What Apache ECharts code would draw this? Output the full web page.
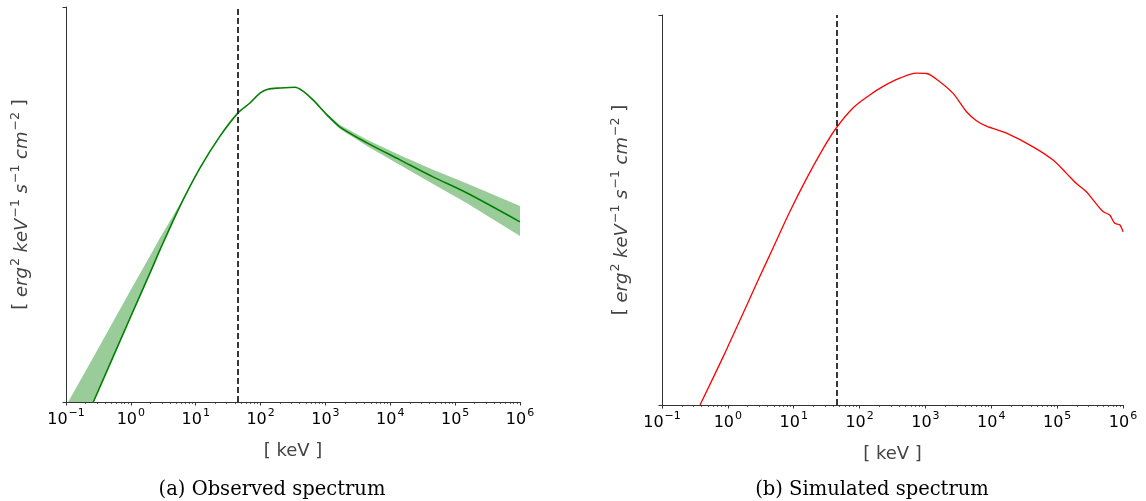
<!DOCTYPE html>
<html><head><meta charset="utf-8">
<script src="https://cdn.jsdelivr.net/npm/echarts@6/dist/echarts.min.js"></script>
<style>html,body{margin:0;padding:0;background:#fff}#c{width:1146px;height:501px}</style>
</head><body><div id="c"></div>
<script>
// ---- data (x in keV, y in arbitrary plot units 0..100) ----
const obsEnergy = [0.1, 0.108, 0.264, 1, 2.22, 2.81, 5.73, 11.6, 23.7, 44.9, 68.7, 97.9, 130, 200, 340, 451, 643, 1057, 1679, 4375, 14125, 45600, 152400, 1000000];
const obsFlux   = [-15.8, -14.5, 0, 21.7, 34.6, 38.5, 49.6, 59.2, 67.3, 73.2, 75.7, 78.2, 79.2, 79.5, 79.7, 78.7, 76.5, 72.7, 69.6, 65.6, 61.3, 57.0, 52.9, 45.6];
const obsLower  = [-15.8, -14.5, 0, 21.7, 34.6, 38.5, 49.6, 59.2, 67.3, 73.2, 75.7, 78.2, 79.2, 79.5, 79.7, 78.7, 76.5, 72.4, 69.1, 64.8, 60.0, 55.2, 50.3, 42.0];
const obsUpper  = [-1.0, 0.0, 11.3, 28.4, 38.5, 41.5, 50.1, 59.2, 67.3, 73.2, 75.7, 78.2, 79.2, 79.5, 79.7, 78.7, 76.5, 73.0, 70.1, 66.4, 62.5, 58.8, 55.3, 49.6];

const simEnergy = [0.378, 0.851, 1.53, 2.74, 4.89, 8.75, 15.7, 28.1, 43.7, 80.0, 143, 228, 409, 733, 1040, 1652, 2630, 4207, 5957, 8453, 17020, 43050, 86700, 138400, 196300, 278600, 350800, 497700, 628100, 748200, 891300, 1000000];
const simFlux   = [0, 12.4, 21.8, 31.2, 40.4, 49.6, 58.1, 65.8, 70.9, 76.2, 79.5, 81.7, 83.8, 85.1, 85.0, 82.9, 79.9, 75.2, 72.9, 71.5, 69.7, 66.2, 62.8, 59.4, 56.8, 54.7, 52.6, 49.6, 48.7, 46.6, 46.2, 44.4];

const dashedEnergyKeV = 45;
const xMinKeV = 0.1, xMaxKeV = 1e6;
const captions = ['(a) Observed spectrum', '(b) Simulated spectrum'];
const xAxisTitle = '[ keV ]';
const yAxisTitle = '[ {i|erg}{s|2} {i|keV}{s|\u22121} {i|s}{s|\u22121} {i|cm}{s|\u22122} ]';

// minor tick positions (log10 space)
const minorTickLogs = [];
for (let n = -1; n < 6; n++) for (let m = 2; m <= 9; m++) minorTickLogs.push(Math.log10(m * Math.pow(10, n)));

const FONT = 'DejaVu Sans';
const AX = '#333';

function zip(a, b) { return a.map((v, i) => [v, b[i]]); }

function tickLabel(v) {
  const e = Math.round(Math.log10(v));
  return '{b|10}{s|' + (e < 0 ? '\u2212' + (-e) : e) + '}';
}

const labelRich = {
  b: { fontSize: 16, fontFamily: FONT, color: '#000', lineHeight: 20, verticalAlign: 'bottom' },
  s: { fontSize: 11, fontFamily: FONT, color: '#000', lineHeight: 20, verticalAlign: 'top', padding: [0, 0, 6, 1] }
};
const nameRich = {
  i: { fontSize: 18, fontFamily: FONT, fontStyle: 'italic', color: '#444', lineHeight: 22, verticalAlign: 'bottom' },
  s: { fontSize: 12.5, fontFamily: FONT, color: '#444', lineHeight: 22, verticalAlign: 'top', padding: [0, 0, 7, 1] }
};

function mainX(gridIndex) {
  return {
    gridIndex, type: 'log', logBase: 10, min: xMinKeV, max: xMaxKeV, position: 'bottom',
    axisLine: { show: true, onZero: false, lineStyle: { color: AX, width: 1 } },
    axisTick: { show: true, length: 3.5, lineStyle: { color: AX, width: 1 } },
    minorTick: { show: false },
    splitLine: { show: false },
    axisLabel: { formatter: tickLabel, rich: labelRich, margin: 6, color: '#000', fontFamily: FONT, fontSize: 16 },
    name: xAxisTitle, nameLocation: 'middle', nameGap: 40,
    nameTextStyle: { fontSize: 18, fontFamily: FONT, color: '#444' }
  };
}
function minorX(gridIndex) {
  return {
    gridIndex, type: 'value', min: -1, max: 6, position: 'bottom',
    axisLine: { show: false, onZero: false }, axisLabel: { show: false }, splitLine: { show: false },
    axisTick: { show: true, length: 2, customValues: minorTickLogs, lineStyle: { color: AX, width: 0.8 } }
  };
}
function yAx(gridIndex, gap) {
  return {
    gridIndex, type: 'value', min: 0, max: 100, interval: 100,
    axisLine: { show: true, onZero: false, lineStyle: { color: AX, width: 1 } },
    axisTick: { show: true, length: 3.5, lineStyle: { color: AX } },
    axisLabel: { show: false }, splitLine: { show: false },
    name: yAxisTitle, nameLocation: 'middle', nameRotate: 90, nameGap: gap,
    nameTextStyle: { fontSize: 18, fontFamily: FONT, color: '#444', rich: nameRich }
  };
}
const dashMark = {
  silent: true, symbol: ['none', 'none'], label: { show: false },
  lineStyle: { type: [6, 3], color: '#222', width: 1.8 },
  data: [{ xAxis: dashedEnergyKeV }]
};

const chart = echarts.init(document.getElementById('c'), null, { renderer: 'canvas' });
chart.setOption({
  animation: false,
  backgroundColor: '#fff',
  grid: [
    { left: 66, right: 1146 - 520, top: 7, bottom: 501 - 402, outerBoundsMode: 'none' },
    { left: 662, right: 1146 - 1123, top: 15, bottom: 501 - 405, outerBoundsMode: 'none' }
  ],
  xAxis: [mainX(0), minorX(0), mainX(1), minorX(1)],
  yAxis: [yAx(0, 35), yAx(1, 31)],
  series: [
    { type: 'custom', xAxisIndex: 0, yAxisIndex: 0, silent: true, clip: true, z: 1,
      data: obsEnergy.map((e, i) => [e, obsLower[i], obsUpper[i]]),
      encode: { x: 0, y: [1, 2] },
      renderItem(params, api) {
        if (params.dataIndex !== 0) return null;
        const top = obsEnergy.map((e, i) => api.coord([e, obsUpper[i]]));
        const bot = obsEnergy.map((e, i) => api.coord([e, obsLower[i]])).reverse();
        const cs = params.coordSys;
        return {
          type: 'polygon', shape: { points: top.concat(bot) },
          style: { fill: 'rgba(0,128,0,0.4)' },
          clipPath: { type: 'rect', shape: { x: cs.x, y: cs.y, width: cs.width, height: cs.height } }
        };
      } },
    { type: 'line', xAxisIndex: 0, yAxisIndex: 0, data: zip(obsEnergy, obsFlux), symbol: 'none', smooth: 0.3, z: 3,
      lineStyle: { color: '#008000', width: 1.6 }, markLine: dashMark },
    { type: 'line', xAxisIndex: 2, yAxisIndex: 1, data: zip(simEnergy, simFlux), symbol: 'none', smooth: 0.3,
      lineStyle: { color: '#ff0000', width: 1.3 }, markLine: dashMark }
  ],
  graphic: [
    { type: 'text', x: 272, y: 490, style: { text: captions[0], fontSize: 19.5, fontFamily: 'DejaVu Serif', fill: '#000', align: 'center', verticalAlign: 'middle' } },
    { type: 'text', x: 872, y: 490, style: { text: captions[1], fontSize: 19.5, fontFamily: 'DejaVu Serif', fill: '#000', align: 'center', verticalAlign: 'middle' } }
  ]
});
</script></body></html>
